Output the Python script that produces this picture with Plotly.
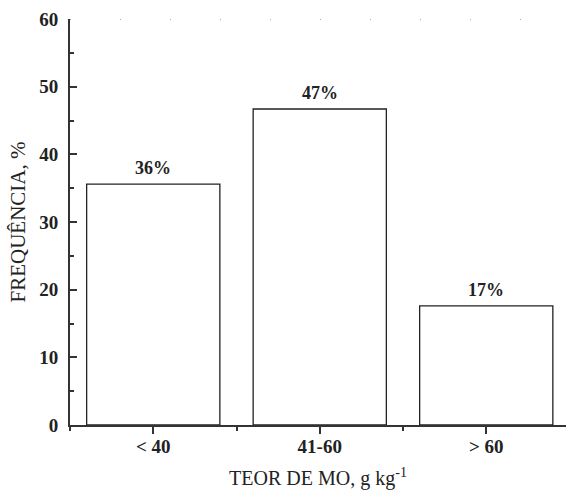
import plotly.graph_objects as go

categories = ["< 40", "41-60", "> 60"]
values = [35.6, 46.7, 17.6]
bar_labels = ["36%", "47%", "17%"]
y_ticks = [0, 10, 20, 30, 40, 50, 60]

serif = "Liberation Serif"
axis_color = "#333333"

fig = go.Figure()
fig.add_trace(go.Bar(
    x=list(range(len(categories))),
    y=values,
    width=0.8,
    marker=dict(color="white", line=dict(color="#222222", width=1.3)),
    showlegend=False,
    hoverinfo="skip",
))

for i, (v, lab) in enumerate(zip(values, bar_labels)):
    fig.add_annotation(
        x=i, y=v, text="<b>%s</b>" % lab, showarrow=False, yanchor="bottom", yshift=4,
        font=dict(family=serif, size=18, color="#222222"),
    )

# sparse dotted line at top
fig.add_shape(type="line", xref="paper", yref="y", x0=0, x1=1, y0=60, y1=60,
              line=dict(color="#555555", width=1.2, dash="1px,49px"))

fig.update_xaxes(
    range=[-0.5, 2.479],
    automargin=False,
    tickmode="array",
    tickvals=list(range(len(categories))),
    ticktext=["<b>%s</b>" % c for c in categories],
    ticks="outside", ticklen=7, tickwidth=1.5, tickcolor=axis_color,
    minor=dict(tickmode="array", tickvals=[-0.5, 0.5, 1.5, 2.5],
               ticks="outside", ticklen=4, tickwidth=1.5, tickcolor=axis_color),
    showline=True, linecolor=axis_color, linewidth=2,
    showgrid=False, zeroline=False,
    ticklabelstandoff=-4,
    tickfont=dict(family=serif, size=19, color="#222222"),
    title=dict(text="TEOR DE MO, g kg<sup>-1</sup>",
               font=dict(family=serif, size=20, color="#222222"), standoff=17),
)
fig.update_yaxes(
    range=[0, 60],
    automargin=False,
    tickmode="array",
    tickvals=y_ticks,
    ticktext=["<b>%d</b>" % t for t in y_ticks],
    ticks="inside", ticklen=7, tickwidth=1.5, tickcolor=axis_color,
    minor=dict(tickmode="array", tickvals=[5, 15, 25, 35, 45, 55],
               ticks="inside", ticklen=4, tickwidth=1.5, tickcolor=axis_color),
    showline=True, linecolor=axis_color, linewidth=2,
    showgrid=False, zeroline=False,
    ticklabelstandoff=6,
    tickfont=dict(family=serif, size=19, color="#222222"),
    title=dict(text="FREQUÊNCIA, %",
               font=dict(family=serif, size=21, color="#222222"), standoff=8),
)

fig.update_layout(
    width=566, height=490,
    margin=dict(l=70, r=0, t=19, b=65),
    plot_bgcolor="white", paper_bgcolor="white",
    bargap=0.2,
)

fig.write_html("out.html", config={"displayModeBar": False},
               post_script="document.body.style.margin='0';document.body.style.padding='0';")
